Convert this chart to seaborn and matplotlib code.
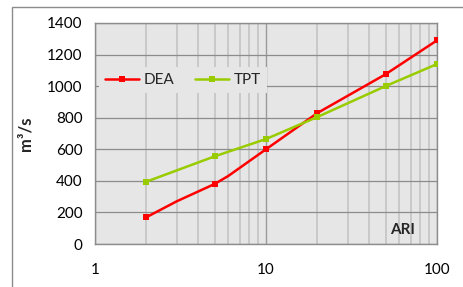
import numpy as np
import pandas as pd
import matplotlib
matplotlib.use("Agg")
import matplotlib.pyplot as plt
import seaborn as sns
from matplotlib.ticker import LogLocator, FixedLocator, NullFormatter, FixedFormatter
from matplotlib.patches import Rectangle

# ---- data ----
ari_dea = [2, 3, 5, 6, 10, 20, 50, 100]
q_dea = [170, 270, 380, 430, 600, 830, 1075, 1290]
dea_marker_idx = [0, 2, 4, 5, 6, 7]
ari_tpt = [2, 5, 10, 20, 50, 100]
q_tpt = [395, 555, 665, 805, 1000, 1140]
series_names = ["DEA", "TPT"]
y_ticks = [0, 200, 400, 600, 800, 1000, 1200, 1400]
x_ticks = [1, 10, 100]
x_tick_labels = ["1", "10", "100"]

sns.set_style("white")
plt.rcParams["font.family"] = ["Lato", "DejaVu Sans"]

W, H = 463, 287
fig = plt.figure(figsize=(W / 100, H / 100), dpi=100)
L, R, T, B = 95, 437, 23, 244
ax = fig.add_axes([L / W, 1 - B / H, (R - L) / W, (B - T) / H])
ax.set_facecolor("#e6e6e6")

# outer chart border
fig.patches.append(Rectangle((12 / W, -0.1), 2, 1.1 - 7.5 / H, transform=fig.transFigure,
                             fill=False, edgecolor="#8c8c8c", lw=1.0))

sns.lineplot(x=ari_dea, y=q_dea, ax=ax, color="#ff0000", lw=1.8, marker="s",
             markersize=4.5, markeredgewidth=0, markevery=dea_marker_idx,
             label=series_names[0], zorder=3)
sns.lineplot(x=ari_tpt, y=q_tpt, ax=ax, color="#99cc00", lw=1.8, marker="s",
             markersize=4.5, markeredgewidth=0, label=series_names[1], zorder=3)

ax.set_xscale("log")
ax.set_xlim(1, 100)
ax.set_ylim(0, 1400)
ax.xaxis.set_major_locator(FixedLocator(x_ticks))
ax.xaxis.set_major_formatter(FixedFormatter(x_tick_labels))
ax.xaxis.set_minor_locator(LogLocator(base=10, subs=np.arange(2, 10)))
ax.xaxis.set_minor_formatter(NullFormatter())
ax.yaxis.set_major_locator(FixedLocator(y_ticks))

ax.set_axisbelow(True)
ax.grid(which="major", axis="y", color="#8c8c8c", lw=0.9)
ax.grid(which="major", axis="x", color="#9a9a9a", lw=1.0)
ax.grid(which="minor", axis="x", color="#c6c6c6", lw=1.3)

for s in ax.spines.values():
    s.set_color("#8c8c8c")
    s.set_linewidth(1.0)

ax.tick_params(axis="both", which="both", length=0, labelsize=11, colors="black")
ax.tick_params(axis="x", pad=14)
ax.tick_params(axis="y", pad=9)

ax.set_xlabel("")
ax.set_ylabel("m³/s", fontsize=12, fontweight="bold")
ax.yaxis.set_label_coords((33 - L) / (R - L), 0.5)

ax.text((403 - L) / (R - L), (B - 230) / (B - T), "ARI", transform=ax.transAxes,
        ha="center", va="center", fontsize=11, fontweight="bold")

leg = ax.legend(loc="center left", bbox_to_anchor=((99 - L) / (R - L), (B - 80) / (B - T)),
                ncol=2, frameon=True, facecolor="#e6e6e6", edgecolor="none", framealpha=1,
                fontsize=11, handlelength=2.2, handletextpad=0.3, columnspacing=1.4,
                borderpad=0.4, borderaxespad=0, fancybox=False)
leg.set_zorder(5)

fig.savefig("out.png", dpi=100, facecolor="white")
